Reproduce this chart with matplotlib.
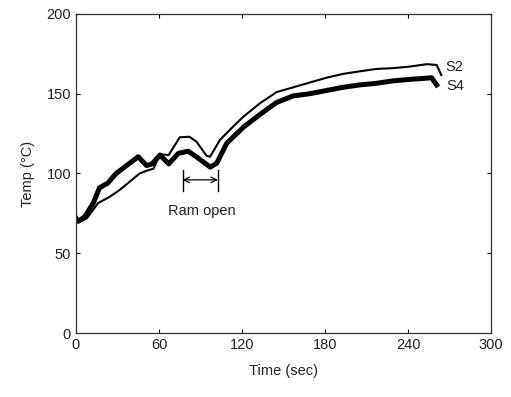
import matplotlib
matplotlib.use("Agg")
import matplotlib.pyplot as plt

plt.rcParams['font.family'] = ['Liberation Sans', 'DejaVu Sans']

# S4 (thick line)
t_s4 = [0, 1.5, 6.5, 12.5, 17, 23, 29, 36.6, 45, 51, 55, 60.7, 67, 74, 81, 87, 97, 101.7,
        109, 121, 133, 145, 157, 169, 181, 193, 205, 217, 229, 241.5, 250, 257, 260.7]
T_s4 = [72, 70, 73, 81.5, 91, 94, 100, 105, 110.5, 105, 106, 111.6, 106, 112.6, 114, 110.5, 104, 106.4,
        119, 129, 137, 144.5, 148.6, 150, 152, 154, 155.5, 156.5, 158, 159, 159.5, 160, 155.5]

# S2 (thin line)
t_s2 = [0, 3, 8, 16, 24.6, 32, 39, 46, 52, 56, 60.7, 67, 75, 82, 87, 94.5, 97, 104,
        112, 121, 133, 145, 157, 169, 181, 193, 205, 217, 229, 241.5, 253.5, 260.7, 264]
T_s2 = [72, 70, 72, 81.5, 85.5, 90, 95, 100, 102, 103, 112, 111.6, 122.7, 123, 120, 111, 110.6, 121,
        128, 135.6, 144, 151, 154, 157, 160, 162.4, 164, 165.5, 166, 167, 168.5, 168, 161.7]

x_ticks = [0, 60, 120, 180, 240, 300]
y_ticks = [0, 50, 100, 150, 200]

fig = plt.figure(figsize=(5.11, 3.97), dpi=100)
ax = fig.add_axes([0.1487, 0.161, 0.8123, 0.804])

ax.plot(t_s2, T_s2, color='black', lw=1.5)
ax.plot(t_s4, T_s4, color='black', lw=3.6)

txt_col = '#222222'
ax.text(267, 167, 'S2', fontsize=10.5, va='center', ha='left', color=txt_col)
ax.text(268, 155, 'S4', fontsize=10.5, va='center', ha='left', color=txt_col)

# Ram open annotation
ax.plot([77, 77], [89, 102], color='black', lw=1)
ax.plot([102.6, 102.6], [89, 102], color='black', lw=1)
ax.annotate('', xy=(77, 96), xytext=(102.6, 96),
            arrowprops=dict(arrowstyle='<->', color='black', lw=0.9, shrinkA=0, shrinkB=0))
ax.text(91, 76.7, 'Ram open', fontsize=10.5, ha='center', va='center', color=txt_col)

ax.set_xlim(0, 300)
ax.set_ylim(0, 200)
ax.set_xticks(x_ticks)
ax.set_yticks(y_ticks)
ax.tick_params(direction='in', top=True, right=True, labelsize=10.5, length=3, width=0.8,
               labelcolor=txt_col)
for s in ax.spines.values():
    s.set_linewidth(0.9)
    s.set_color('#333333')
ax.set_xlabel('Time (sec)', fontsize=10.5, labelpad=9, color=txt_col)
ax.set_ylabel('Temp (°C)', fontsize=10.5, labelpad=8, color=txt_col)

fig.savefig('out.png', dpi=100)
